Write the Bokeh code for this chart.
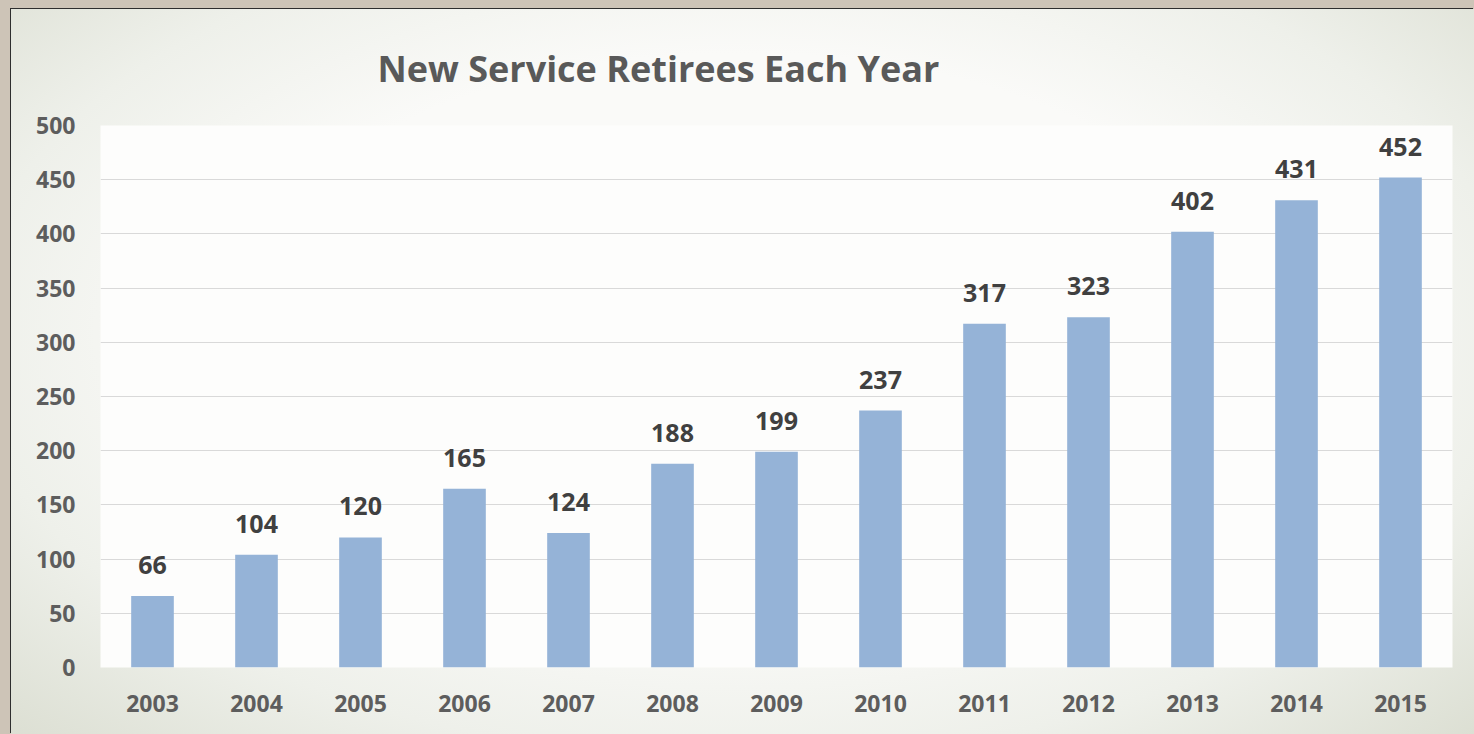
from bokeh.plotting import figure
from bokeh.models import ColumnDataSource, Title, SingleIntervalTicker
from bokeh.core.properties import value
from bokeh.layouts import column
from bokeh.embed import file_html
from bokeh.resources import INLINE

years = ["2003", "2004", "2005", "2006", "2007", "2008", "2009", "2010",
         "2011", "2012", "2013", "2014", "2015"]
retirees = [66, 104, 120, 165, 124, 188, 199, 237, 317, 323, 402, 431, 452]
title_text = "New Service Retirees Each Year"

src = ColumnDataSource(dict(x=years, y=retirees, lbl=[str(v) for v in retirees]))

FONT = "Open Sans"

p = figure(x_range=years, y_range=(0, 500), width=1463, height=725,
           output_backend="svg", toolbar_location=None,
           min_border_left=89, min_border_right=22, min_border_top=116, min_border_bottom=67,
           margin=(9, 0, 0, 11),
           border_fill_alpha=0, background_fill_color="#fdfdfc",
           outline_line_color=None,
           styles={"background": "radial-gradient(ellipse at 50% 45%, #fafaf8 50%, #eef0ea 75%, #dcdfd3 100%)",
                   "box-shadow": "-1px -1px 0 #2e2e2e"})

p.vbar(x="x", top="y", width=0.41, source=src, color="#95b3d7", line_color=None)
p.text(x="x", y="y", text="lbl", source=src, text_align="center", text_baseline="middle",
       y_offset=-31, text_font=value(FONT), text_font_size="25px", text_font_style="bold",
       text_color="#404040")

p.yaxis.ticker = SingleIntervalTicker(interval=50)
for ax in (p.xaxis[0], p.yaxis[0]):
    ax.axis_line_color = None
    ax.major_tick_line_color = None
    ax.minor_tick_line_color = None
    ax.major_tick_out = 0
    ax.major_tick_in = 0
    ax.major_label_text_font = FONT
    ax.major_label_text_font_size = "23px"
    ax.major_label_text_font_style = "bold"
    ax.major_label_text_color = "#5d5d5d"
p.yaxis.major_label_standoff = 21
p.xaxis.major_label_standoff = 27

p.xgrid.grid_line_color = None
p.ygrid.grid_line_color = "#d9d9d9"
p.ygrid.grid_line_width = 1

p.add_layout(Title(text=title_text, align="left", offset=277, standoff=62,
                   vertical_align="top",
                   text_font=FONT, text_font_size="36px", text_font_style="bold",
                   text_color="#595959"), "above")

root = column(p, width=1474, height=734, styles={"background-color": "#cdc4b7"})

open("out.html", "w").write(file_html(root, INLINE))
